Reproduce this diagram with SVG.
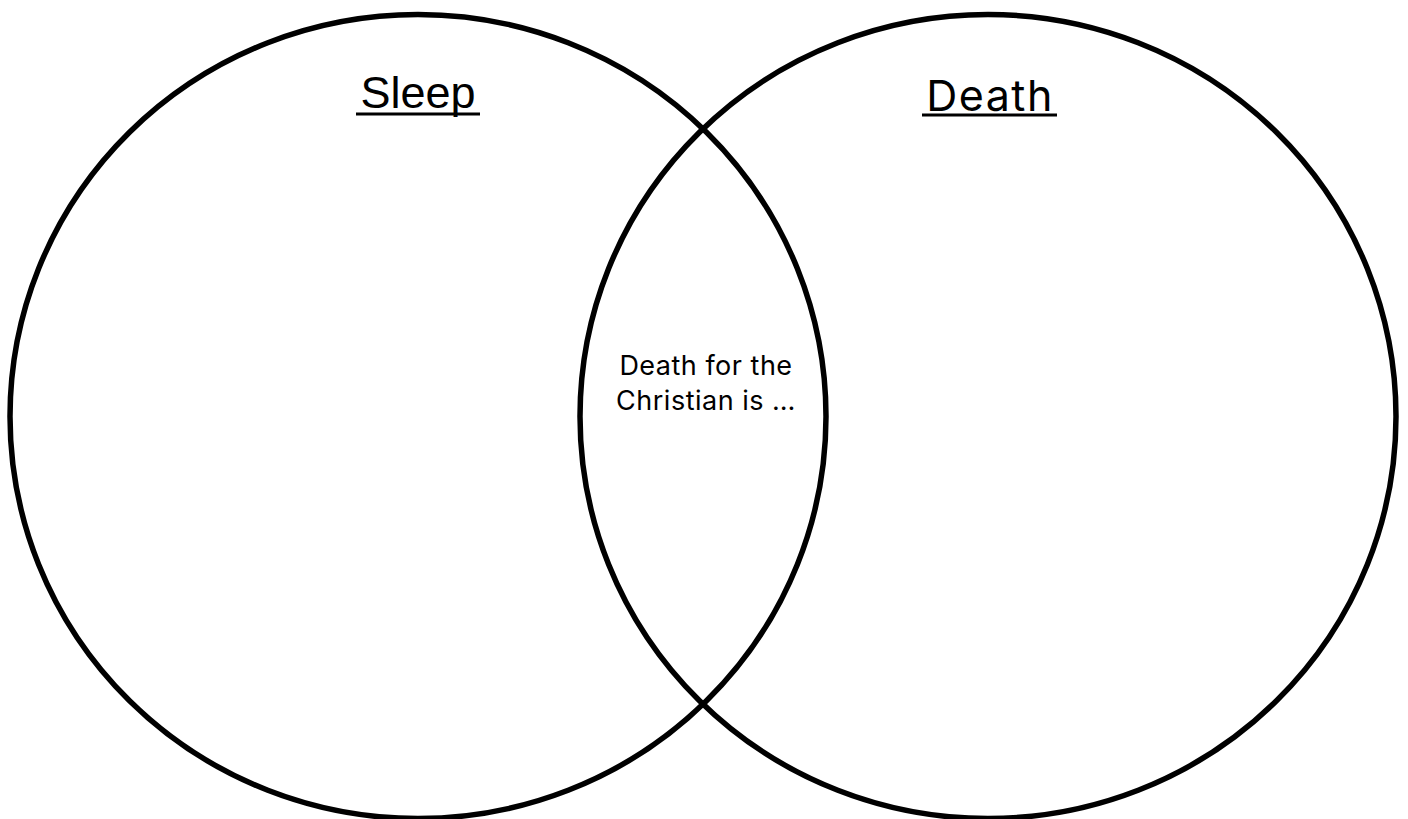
<svg xmlns="http://www.w3.org/2000/svg" width="1408" height="819" viewBox="0 0 1408 819">
  <style>
    .circle { fill: none; stroke: #000; stroke-width: 5.5; }
    .uline { stroke: #000; stroke-width: 3; }
    .body { font-family: Inter, "Noto Sans", sans-serif; font-size: 27px; letter-spacing: 0.5px; fill: #000; }
  </style>
  <rect width="1408" height="819" fill="#fff"/>
  <g id="sleep">
    <ellipse class="circle" cx="418" cy="416.5" rx="408" ry="402"/>
    <text x="418" y="108" text-anchor="middle" font-family="'Liberation Sans', Arial, sans-serif" font-size="45" fill="#000">Sleep</text>
    <line class="uline" x1="356" y1="114" x2="480" y2="114"/>
  </g>
  <g id="death">
    <ellipse class="circle" cx="988" cy="416.5" rx="408" ry="402"/>
    <text x="990" y="111" text-anchor="middle" font-family="Inter, 'Noto Sans', sans-serif" font-size="43" letter-spacing="1.5" fill="#000">Death</text>
    <line class="uline" x1="922" y1="115" x2="1057" y2="115"/>
  </g>
  <g id="overlap">
    <text class="body" x="706" y="375" text-anchor="middle">Death for the</text>
    <text class="body" x="706" y="410" text-anchor="middle">Christian is …</text>
  </g>
</svg>
